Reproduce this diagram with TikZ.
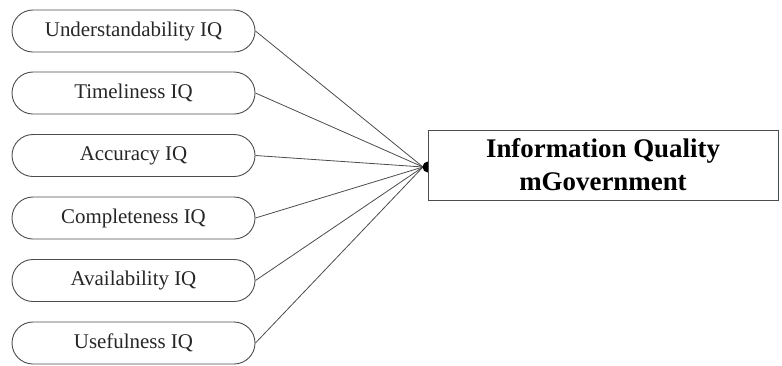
\documentclass[tikz,border=0pt]{standalone}
\usepackage{fontspec}
\setmainfont{Liberation Serif}
\begin{document}
\begin{tikzpicture}[x=1bp,y=-1bp,
  pill/.style={draw=black!70,line width=0.9bp,rounded corners=21bp,minimum width=243bp,minimum height=42bp,inner sep=0pt,font=\fontsize{21}{24}\selectfont,text=black!85},
  link/.style={draw=black!70,line width=0.8bp},
  mainbox/.style={draw=black!70,line width=1bp,fill=white,minimum width=350bp,minimum height=70bp,inner sep=0pt,align=center,font=\fontsize{27}{33}\selectfont\bfseries}]
\useasboundingbox (0,0) rectangle (782,365);
\node[pill] (u) at (133.5,31) {Understandability IQ};
\node[pill] (t) at (133.5,93) {Timeliness IQ};
\node[pill] (a) at (133.5,155.5) {Accuracy IQ};
\node[pill] (c) at (133.5,218) {Completeness IQ};
\node[pill] (v) at (133.5,280.5) {Availability IQ};
\node[pill] (f) at (133.5,343) {Usefulness IQ};
\coordinate (hub) at (423,167);
\foreach \n in {u,t,a,c,v,f} \draw[link] (\n.east) -- (hub);
\fill[black] (428,167) circle (5.5bp);
\node[mainbox] (iq) at (603,165) {Information Quality\\mGovernment};
\end{tikzpicture}
\end{document}
